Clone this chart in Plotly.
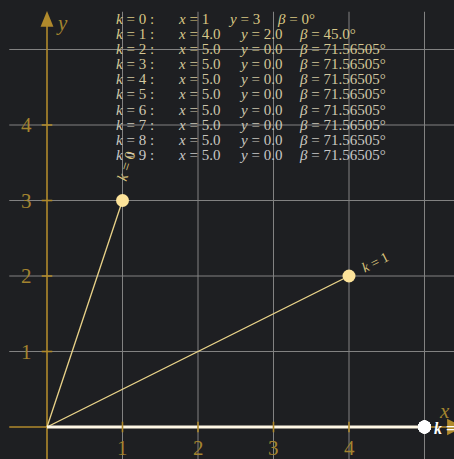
import plotly.graph_objects as go

# iteration data: step k, point (x, y), angle beta in degrees
ks = [0, 1, 2, 3, 4, 5, 6, 7, 8, 9]
xs = [1, 4.0, 5.0, 5.0, 5.0, 5.0, 5.0, 5.0, 5.0, 5.0]
ys = [3, 2.0, 0.0, 0.0, 0.0, 0.0, 0.0, 0.0, 0.0, 0.0]
betas = ["0", "45.0", "71.56505", "71.56505", "71.56505",
         "71.56505", "71.56505", "71.56505", "71.56505", "71.56505"]
tick_vals = [1, 2, 3, 4]
grid_vals = [1, 2, 3, 4, 5]

W, H = 454, 459
BG = "#1e1f22"
GOLD = "#b08a2c"
GOLD_TXT = "#a3842f"
GRID = "#828282"
SERIF = "Liberation Serif, DejaVu Serif, serif"

fig = go.Figure()

# grid
shapes = []
for g in grid_vals:
    shapes.append(dict(type="line", x0=g, x1=g, y0=-0.5, y1=5.5,
                       line=dict(color=GRID, width=1), layer="below"))
    shapes.append(dict(type="line", x0=-0.5, x1=5.5, y0=g, y1=g,
                       line=dict(color=GRID, width=1), layer="below"))
# axes with arrow heads
shapes.append(dict(type="line", x0=-0.5, x1=5.35, y0=0, y1=0,
                   line=dict(color=GOLD, width=1.6), layer="below"))
shapes.append(dict(type="line", x0=0, x1=0, y0=-0.5, y1=5.35,
                   line=dict(color=GOLD, width=1.6), layer="below"))
shapes.append(dict(type="path", path="M 5.30 -0.11 L 5.51 0 L 5.30 0.11 Z",
                   fillcolor=GOLD, line=dict(width=0)))
shapes.append(dict(type="path", path="M -0.085 5.30 L 0 5.51 L 0.085 5.30 Z",
                   fillcolor=GOLD, line=dict(width=0)))
# tick marks
for t in tick_vals:
    shapes.append(dict(type="line", x0=t, x1=t, y0=-0.07, y1=0.07,
                       line=dict(color=GOLD, width=1.6)))
    shapes.append(dict(type="line", x0=-0.07, x1=0.07, y0=t, y1=t,
                       line=dict(color=GOLD, width=1.6)))

# segments from origin to each point
for i, k in enumerate(ks):
    if i < 2:
        color, width = "#ecd58a", 1.3
    elif i == 2:
        color, width = "#fff8e6", 3
    else:
        continue
    fig.add_trace(go.Scatter(x=[0, xs[i]], y=[0, ys[i]], mode="lines",
                             line=dict(color=color, width=width),
                             hoverinfo="skip", showlegend=False))

# points
pt_colors = ["#fde39a", "#fde39a"] + ["#ffffff"] * (len(ks) - 2)
fig.add_trace(go.Scatter(x=xs, y=ys, mode="markers",
                         marker=dict(size=13, color=pt_colors, line=dict(width=0)),
                         hoverinfo="skip", showlegend=False))

ann = []
# tick labels
for t in tick_vals:
    ann.append(dict(x=t, y=0, xref="x", yref="y", text=str(t), showarrow=False,
                    yshift=-21, font=dict(family=SERIF, size=21, color=GOLD_TXT)))
    ann.append(dict(x=0, y=t, xref="x", yref="y", text=str(t), showarrow=False,
                    xshift=-21, font=dict(family=SERIF, size=21, color=GOLD_TXT)))
# axis names
ann.append(dict(x=5.27, y=0, xref="x", yref="y", text="<i>x</i>", showarrow=False,
                yshift=16, font=dict(family=SERIF, size=21, color=GOLD_TXT)))
ann.append(dict(x=0, y=5.35, xref="x", yref="y", text="<i>y</i>", showarrow=False,
                xshift=15, font=dict(family=SERIF, size=21, color=GOLD_TXT)))

# labels along the segments
ann.append(dict(x=xs[0], y=ys[0], xref="x", yref="y", text="<i>k</i> = 0",
                showarrow=False, textangle=-71.57, xshift=3, yshift=34,
                font=dict(family=SERIF, size=15, color="#d9c37c")))
ann.append(dict(x=xs[1], y=ys[1], xref="x", yref="y", text="<i>k</i> = 1",
                showarrow=False, textangle=-26.57, xshift=26, yshift=14,
                font=dict(family=SERIF, size=14, color="#d9c37c")))
ann.append(dict(x=xs[2], y=ys[2], xref="x", yref="y", text="<b><i>k</i> = 2</b>",
                showarrow=False, xanchor="left", xshift=7, yshift=-1,
                font=dict(family=SERIF, size=16, color="#ffffff")))

# table of iterates, fading from gold to grey; columns laid out in pixels
c0 = (218, 200, 130)
c1 = (200, 200, 200)
n = len(ks)
for i, k in enumerate(ks):
    f = i / (n - 1)
    col = "rgb(%d,%d,%d)" % tuple(round(a + (b - a) * f) for a, b in zip(c0, c1))
    xstr, ystr = str(xs[i]), str(ys[i])
    col_k = 114
    col_x = 176
    col_y = col_x + 50 + 5.5 * (len(xstr) - 1)
    col_b = col_y + 49 + 5.5 * (len(ystr) - 1)
    py = 19 + i * 15.1
    parts = [(col_k, f"<i>k</i> = {k} :"),
             (col_x, f"<i>x</i> = {xstr}"),
             (col_y, f"<i>y</i> = {ystr}"),
             (col_b, f"<i>β</i> = {betas[i]}°")]
    for px, txt in parts:
        ann.append(dict(x=px / W, y=1 - py / H, xref="paper", yref="paper",
                        text=txt, showarrow=False, xanchor="left", yanchor="middle",
                        font=dict(family=SERIF, size=15, color=col)))

px_per_unit = 75.5
x0_px, y0_px = 47, 427
fig.update_layout(
    width=W, height=H,
    margin=dict(l=0, r=0, t=0, b=0),
    paper_bgcolor=BG, plot_bgcolor=BG,
    xaxis=dict(range=[-x0_px / px_per_unit, (W - x0_px) / px_per_unit],
               visible=False, fixedrange=True),
    yaxis=dict(range=[-(H - y0_px) / px_per_unit, y0_px / px_per_unit],
               visible=False, fixedrange=True),
    shapes=shapes, annotations=ann,
)

fig.write_html("out.html")
